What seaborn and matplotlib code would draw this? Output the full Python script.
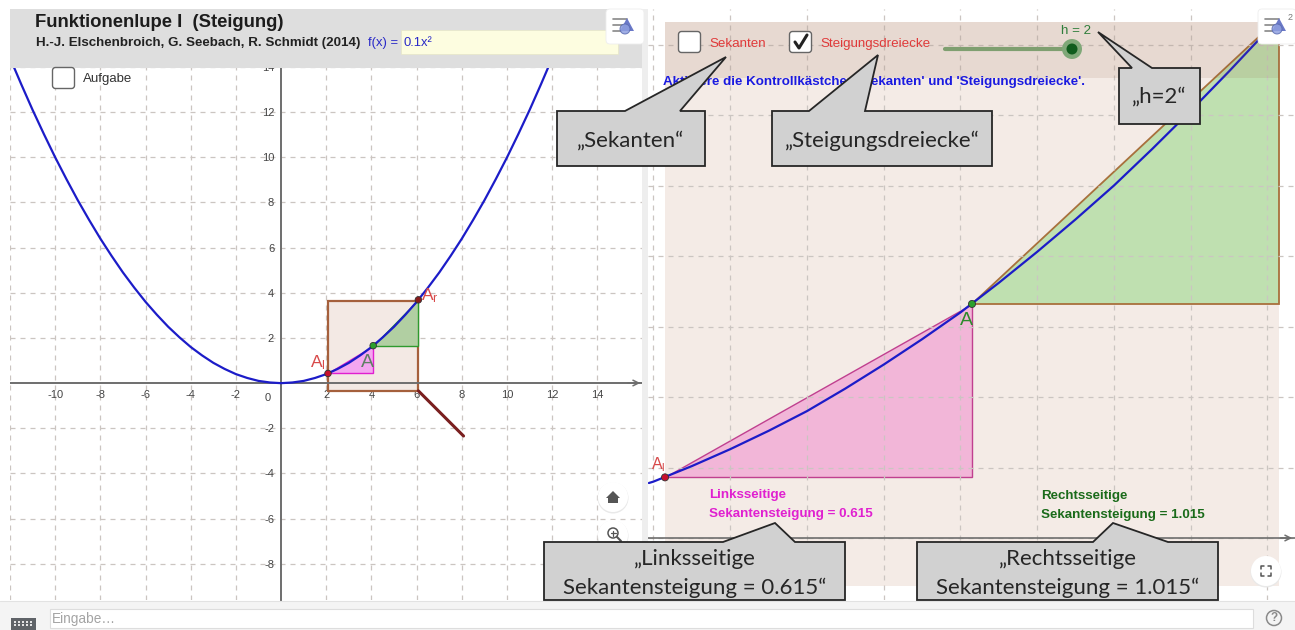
import matplotlib
matplotlib.use("Agg")
import matplotlib.pyplot as plt
from matplotlib.patches import Rectangle, Polygon, Circle, FancyBboxPatch
import pandas as pd
import seaborn as sns

# values
curve_x = [-12, -11.5, -11, -10.5, -10, -9.5, -9, -8.5, -8, -7.5, -7, -6.5, -6, -5.5, -5, -4.5, -4, -3.5, -3, -2.5, -2,
           -1.5, -1, -0.5, 0, 0.5, 1, 1.5, 2, 2.5, 3, 3.5, 4, 4.5, 5, 5.5, 6, 6.5, 7, 7.5, 8, 8.5, 9, 9.5, 10, 10.5, 11,
           11.5, 12]
curve_y = [14.4, 13.23, 12.1, 11.03, 10, 9.03, 8.1, 7.23, 6.4, 5.63, 4.9, 4.23, 3.6, 3.03, 2.5, 2.03, 1.6, 1.23, 0.9,
           0.63, 0.4, 0.23, 0.1, 0.03, 0, 0.03, 0.1, 0.23, 0.4, 0.63, 0.9, 1.23, 1.6, 2.03, 2.5, 3.03, 3.6, 4.23, 4.9,
           5.63, 6.4, 7.23, 8.1, 9.03, 10, 11.03, 12.1, 13.23, 14.4]
zoom_x = [1.97, 2.0, 2.25, 2.5, 2.75, 3, 3.25, 3.5, 3.75, 4, 4.25, 4.5, 4.75, 5, 5.25, 5.5, 5.75, 6, 6.25]
zoom_y = [0.39, 0.4, 0.51, 0.63, 0.76, 0.9, 1.06, 1.23, 1.41, 1.6, 1.81, 2.03, 2.26, 2.5, 2.76, 3.03, 3.31, 3.6, 3.91]

point_x = [2.075, 4.075, 6.075]
point_y = [0.43, 1.66, 3.69]
loupe_x = [2.075, 6.075]
loupe_y = [-0.34, 3.66]
handle_x = [6.075, 8.075]
handle_y = [-0.34, -2.34]

left_ticks_x = [-10, -8, -6, -4, -2, 2, 4, 6, 8, 10, 12, 14]
left_ticks_y = [-8, -6, -4, -2, 2, 4, 6, 8, 10, 12, 14]
right_grid_x = [2, 2.5, 3, 3.5, 4, 4.5, 5, 5.5, 6]
right_grid_y = [0, 0.5, 1, 1.5, 2, 2.5, 3, 3.5]

W, H = 1295, 630
BLUE = "#1c1cc8"
GRID = "#cbc5c1"
AXIS = "#6e6e6e"
BROWN = "#a5603c"
UI = "Liberation Sans"

sns.set_style("white")
plt.rcParams["font.family"] = UI
plt.rcParams["mathtext.default"] = "regular"
plt.rcParams["axes.unicode_minus"] = False

fig = plt.figure(figsize=(W / 100, H / 100), dpi=100)


def px_axes(x0, y0, x1, y1):
    return fig.add_axes([x0 / W, 1 - y1 / H, (x1 - x0) / W, (y1 - y0) / H])


def draw_curve(ax, xs, ys):
    df = pd.DataFrame({"x": xs, "y": ys})
    sns.lineplot(data=df, x="x", y="y", ax=ax, color=BLUE, lw=1.6, sort=False, estimator=None, zorder=6)
    ax.set_xlabel("")
    ax.set_ylabel("")


def draw_points(ax, size):
    df = pd.DataFrame({"x": point_x, "y": point_y, "n": ["l", "m", "r"]})
    sns.scatterplot(data=df, x="x", y="y", hue="n", palette={"l": "#c8102e", "m": "#2ca02c", "r": "#8a1c1c"},
                    s=size, edgecolor="#333333", linewidth=0.6, legend=False, ax=ax, zorder=8, clip_on=False)
    ax.set_xlabel("")
    ax.set_ylabel("")


# left view
ax = px_axes(10, 67, 642, 600)
ax.set_xlim((10 - 281) / 22.6, (642 - 281) / 22.6)
ax.set_ylim((383 - 600) / 22.6, (383 - 67) / 22.6)
ax.set_xticks(left_ticks_x)
ax.set_yticks(left_ticks_y)
ax.set_xticks([-12], minor=True)
ax.grid(True, which="both", color=GRID, ls=(0, (4, 4)), lw=0.9)
ax.set_axisbelow(True)
ax.tick_params(which="both", length=0, labelsize=8, colors="#444444", pad=5)
for side in ["top", "right"]:
    ax.spines[side].set_visible(False)
for side in ["left", "bottom"]:
    ax.spines[side].set_color(AXIS)
    ax.spines[side].set_linewidth(1.4)
    ax.spines[side].set_position(("data", 0))
ax.text(-0.45, -0.45, "0", fontsize=8, color="#444444", ha="right", va="top")
ax.add_patch(Rectangle((loupe_x[0], loupe_y[0]), loupe_x[1] - loupe_x[0], loupe_y[1] - loupe_y[0],
                       fc="#f3e9e4", ec=BROWN, lw=1.6, zorder=1.5))
ax.fill([point_x[0], point_x[1], point_x[1]], [point_y[0], point_y[0], point_y[1]], fc="#f4a6f0", ec="#e020d0",
        lw=1, zorder=2)
ax.fill([point_x[1], point_x[2], point_x[2]], [point_y[1], point_y[1], point_y[2]], fc="#b1cfa2", ec="#2e9a2e",
        lw=1, zorder=2)
ax.plot(handle_x, handle_y, color="#7a1f1f", lw=2.2, zorder=3)
draw_curve(ax, curve_x, curve_y)
draw_points(ax, 22)
ax.text(1.3, 0.72, "$A_l$", color="#d84a4a", fontsize=12.5, zorder=9)
ax.text(6.2, 3.65, "$A_r$", color="#d84a4a", fontsize=12.5, zorder=9)
ax.text(3.55, 0.71, "A", color="#5f7f64", fontsize=14, zorder=9)

# right view
rx = px_axes(648, 9, 1295, 600)
rx.set_xlim(4.075 + (648 - 972) / 153.5, 4.075 + (1295 - 972) / 153.5)
rx.set_ylim((538 - 600) / 141, (538 - 9) / 141)
rx.set_xticks(right_grid_x)
rx.set_yticks(right_grid_y)
rx.tick_params(length=0, labelbottom=False, labelleft=False)
rx.grid(True, color=GRID, ls=(0, (4, 4)), lw=0.9, zorder=4)
rx.set_axisbelow(False)
sns.despine(ax=rx, left=True, bottom=True)
rx.add_patch(Rectangle((loupe_x[0], loupe_y[0]), loupe_x[1] - loupe_x[0], loupe_y[1] - loupe_y[0],
                       fc="#f4ebe6", ec="none", zorder=1))
rx.fill([point_x[0], point_x[1], point_x[1]], [point_y[0], point_y[0], point_y[1]], fc="#f2b6d8", ec="#c0408f",
        lw=1.0, zorder=2)
rx.fill([point_x[1], point_x[2], point_x[2]], [point_y[1], point_y[1], point_y[2]], fc="#bfe0b0", ec="#a8703c",
        lw=1.3, zorder=2)
rx.axhline(0, color=AXIS, lw=1.2, zorder=3)
draw_curve(rx, zoom_x, zoom_y)
draw_points(rx, 26)
rx.text(1.985, 0.49, "$A_l$", color="#d84a4a", fontsize=11.5, zorder=9)
rx.text(3.995, 1.51, "A", color="#2c8a2c", fontsize=14, zorder=9)
rx.text(2.362, 0.305, "Linksseitige", color="#e020d0", fontsize=9.65, fontweight="bold", va="center", zorder=9)
rx.text(2.362, 0.17, "Sekantensteigung = 0.615", color="#e020d0", fontsize=9.65, fontweight="bold", va="center",
        zorder=9)
rx.text(4.525, 0.30, "Rechtsseitige", color="#1a6b1a", fontsize=9.65, fontweight="bold", va="center", zorder=9)
rx.text(4.525, 0.16, "Sekantensteigung = 1.015", color="#1a6b1a", fontsize=9.65, fontweight="bold", va="center",
        zorder=9)

# overlay in screen pixels for the GeoGebra interface
ui = fig.add_axes([0, 0, 1, 1])
ui.set_xlim(0, W)
ui.set_ylim(H, 0)
ui.axis("off")
ui.patch.set_alpha(0)


def box(x0, y0, x1, y1, **kw):
    ui.add_patch(Rectangle((x0, y0), x1 - x0, y1 - y0, **kw))


def checkbox(x, y, checked=False):
    ui.add_patch(FancyBboxPatch((x + 2, y + 2), 19, 18, boxstyle="round,pad=1.5,rounding_size=3", fc="white",
                                ec="#666666", lw=1, zorder=5))
    if checked:
        ui.plot([x + 6, x + 10, x + 18], [y + 11, y + 17, y + 4], color="#222222", lw=2.2, zorder=6)


def style_icon(x, y, label=None):
    ui.add_patch(FancyBboxPatch((x - 18, y - 17), 36, 33, boxstyle="round,pad=1,rounding_size=4", fc="white",
                                ec="#eeeeee", lw=0.6, zorder=5))
    for dy, ln in [(-8, 14), (-2, 10), (4, 8)]:
        ui.plot([x - 12, x - 12 + ln], [y + dy, y + dy], color="#888888", lw=1.2, zorder=6)
    ui.add_patch(Polygon([[x + 2, y - 9], [x - 5, y + 4], [x + 9, y + 4]], fc="#6a78c8", ec="none", zorder=6))
    ui.add_patch(Circle((x, y + 2), 5, fc="#8fa0e0", ec="#5a6ab0", lw=0.7, alpha=0.85, zorder=7))
    if label:
        ui.text(x + 13, y - 9, label, fontsize=6.5, color="#777777", ha="center", va="center", zorder=7)


def round_button(x, y):
    ui.add_patch(Circle((x, y + 1), 15.5, fc="#e9e9e9", ec="none", zorder=5))
    ui.add_patch(Circle((x, y), 15, fc="white", ec="none", zorder=5))


# white margin and header
box(0, 0, W, 9, fc="white", ec="none", zorder=3)
box(0, 0, 10, 602, fc="white", ec="none", zorder=3)
box(10, 9, 642, 68, fc="#dedede", ec="none", zorder=3)
box(642, 9, 648, 601, fc="#eeeeee", ec="none", zorder=3)
box(401, 30, 618, 54, fc="#fdfde0", ec="#e6e6c8", lw=0.5, zorder=4)
ui.text(35, 22.5, "Funktionenlupe I  (Steigung)", fontsize=13.3, fontweight="bold", color="#1c1c1c", va="center",
        zorder=6)
ui.text(36, 43, "H.-J. Elschenbroich, G. Seebach, R. Schmidt (2014)", fontsize=9.6, fontweight="bold",
        color="#222222", va="center", zorder=6)
ui.text(368, 43, "f(x) =", fontsize=9.4, color="#2a2ac8", va="center", zorder=6)
ui.text(403, 43, "0.1x²", fontsize=9.4, color="#2a2ac8", va="center", zorder=6)
style_icon(625, 27)
style_icon(1277, 27, label="2")
checkbox(52, 67)
ui.text(83, 79, "Aufgabe", fontsize=9.5, color="#333333", va="center", zorder=6)

# axis arrows
ui.annotate("", xy=(643, 383), xytext=(625, 383), arrowprops=dict(arrowstyle="->", color=AXIS, lw=1.1), zorder=4)
ui.annotate("", xy=(1295, 538), xytext=(1278, 538), arrowprops=dict(arrowstyle="->", color=AXIS, lw=1.1), zorder=4)

# darker band and controls in right view
box(665, 22, 1279, 78, fc="#8f5a3c", alpha=0.12, ec="none", zorder=2)
checkbox(678, 31)
ui.text(709, 44, "Sekanten", fontsize=9.6, color="#e03a3a", va="center", zorder=6)
checkbox(789, 31, checked=True)
ui.text(820, 44, "Steigungsdreiecke", fontsize=9.6, color="#e03a3a", va="center", zorder=6)
ui.plot([945, 1072], [49, 49], color="#7f9f70", lw=3, solid_capstyle="round", zorder=5)
ui.add_patch(Circle((1072, 49), 10, fc="#7fa878", ec="none", zorder=6))
ui.add_patch(Circle((1072, 49), 5.5, fc="#0f5c1c", ec="none", zorder=7))
ui.text(1076, 31, "h = 2", fontsize=9.6, color="#2e7d3a", ha="center", va="center", zorder=7)
ui.text(663, 82, "Aktiviere die Kontrollkästchen 'Sekanten' und 'Steigungsdreiecke'.", fontsize=9.6,
        fontweight="bold", color="#1a1ae0", va="center", zorder=6)

# buttons
round_button(613, 497)
ui.add_patch(Polygon([[613, 491], [606, 498], [608, 498], [608, 503], [618, 503], [618, 498], [620, 498]],
                     fc="#555555", ec="none", zorder=6))
round_button(613, 535)
ui.add_patch(Circle((613, 533), 5, fc="none", ec="#555555", lw=1.1, zorder=6))
ui.plot([617, 621], [537, 541], color="#555555", lw=1.5, zorder=6)
ui.plot([610.5, 615.5], [533, 533], color="#555555", lw=0.9, zorder=6)
ui.plot([613, 613], [530.5, 535.5], color="#555555", lw=0.9, zorder=6)
round_button(1266, 571)
for cx, cy in [(-1, -1), (1, -1), (-1, 1), (1, 1)]:
    ui.plot([1266 + cx * 5, 1266 + cx * 5, 1266 + cx * 2], [571 + cy * 2, 571 + cy * 5, 571 + cy * 5],
            color="#555555", lw=1.1, zorder=6)

# input bar
box(0, 601, W, H, fc="#f4f4f4", ec="none", zorder=3)
ui.plot([0, W], [601, 601], color="#e2e2e2", lw=0.8, zorder=4)
box(50, 609, 1253, 628, fc="white", ec="#dddddd", lw=0.8, zorder=4)
ui.text(52, 618.5, "Eingabe…", fontsize=9.8, color="#a4a4a4", va="center", zorder=6)
box(11, 618, 36, 630, fc="#5f6368", ec="none", zorder=5)
for row in [621.5, 625]:
    ui.plot([14, 33], [row, row], color="white", lw=1.2, ls=(0, (1.2, 1.2)), zorder=6)
ui.add_patch(Circle((1274, 618), 7.5, fc="none", ec="#8a8a8a", lw=1.1, zorder=5))
ui.text(1274, 618, "?", fontsize=8.5, fontweight="bold", color="#8a8a8a", ha="center", va="center", zorder=6)


def callout(x0, y0, x1, y1, tip, b0, b1, lines):
    pts = [[x0, y0], [b0, y0], tip, [b1, y0], [x1, y0], [x1, y1], [x0, y1]]
    ui.add_patch(Polygon(pts, closed=True, fc="#d1d1d1", ec="#262626", lw=1.3, zorder=10, joinstyle="miter"))
    for txt, ty in lines:
        ui.text((x0 + x1) / 2, ty, txt, family="Lato", fontsize=16, color="#262626", ha="center", va="center",
                zorder=11)


callout(557, 111, 705, 166, (726, 57), 625, 680, [("„Sekanten“", 141)])
callout(772, 111, 992, 166, (878, 55), 809, 865, [("„Steigungsdreiecke“", 141)])
callout(1119, 68, 1200, 124, (1098, 32), 1132, 1152, [("„h=2“", 97)])
callout(544, 542, 845, 600, (775, 523), 723, 795, [("„Linksseitige", 559), ("Sekantensteigung = 0.615“", 588)])
callout(917, 542, 1218, 600, (1113, 523), 1093, 1168, [("„Rechtsseitige", 559), ("Sekantensteigung = 1.015“", 588)])

fig.savefig("out.png", dpi=100)
